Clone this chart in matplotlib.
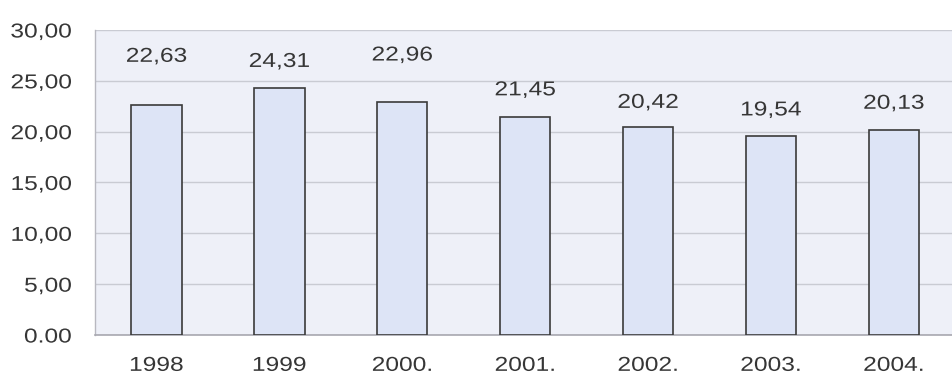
import matplotlib
matplotlib.use("Agg")
import matplotlib.pyplot as plt
from matplotlib.patheffects import AbstractPathEffect
from matplotlib.transforms import Affine2D

plt.rcParams['font.family'] = ['Liberation Sans', 'DejaVu Sans']

years = ["1998", "1999", "2000.", "2001.", "2002.", "2003.", "2004."]
values = [22.63, 24.31, 22.96, 21.45, 20.42, 19.54, 20.13]
value_labels = ["22,63", "24,31", "22,96", "21,45", "20,42", "19,54", "20,13"]
y_ticks = [0, 5, 10, 15, 20, 25, 30]
y_tick_labels = ["0.00", "5,00", "10,00", "15,00", "20,00", "25,00", "30,00"]
# vertical gap (points) between each bar top and its value label
label_gaps = [35, 19, 33.5, 19.5, 18, 19, 19.5]


class HStretch(AbstractPathEffect):
    """Widen glyphs horizontally about the left, centre or right of the ink."""

    def __init__(self, sx, anchor="center"):
        super().__init__()
        self.sx = sx
        self.anchor = anchor

    def draw_path(self, renderer, gc, tpath, affine, rgbFace=None):
        ext = tpath.get_extents()
        if self.anchor == "right":
            cx = ext.x1
        elif self.anchor == "left":
            cx = ext.x0
        else:
            cx = 0.5 * (ext.x0 + ext.x1)
        t = Affine2D().translate(-cx, 0).scale(self.sx, 1).translate(cx, 0) + affine
        renderer.draw_path(gc, tpath, t, rgbFace)


STRETCH = 1.22
FS = 14.5
TXT = "#363636"

fig = plt.figure(figsize=(9.52, 3.83), dpi=100)
ax = fig.add_axes([0.0998, 0.1253, 0.9035, 0.7964])
ax.set_facecolor("#eef0f8")

x = list(range(len(years)))
ax.bar(x, values, width=0.41, color="#dde4f6", edgecolor="#3a3a3a",
       linewidth=1.2, zorder=3)

for xi, v, lab, gap in zip(x, values, value_labels, label_gaps):
    ax.annotate(lab, (xi, v), xytext=(0, gap), textcoords="offset points",
                ha="center", va="center", fontsize=FS, color=TXT,
                path_effects=[HStretch(STRETCH, "center")])

ax.set_xlim(-0.5, len(years) - 0.5)
ax.set_ylim(0, 30)
ax.set_yticks(y_ticks)
ax.set_yticklabels(y_tick_labels)
ax.set_xticks(x)
ax.set_xticklabels(years)
ax.tick_params(axis="y", length=0, pad=17, labelsize=FS, labelcolor=TXT)
ax.tick_params(axis="x", length=0, pad=15, labelsize=FS, labelcolor=TXT)

ax.yaxis.grid(True, color="#c9cbd3", linewidth=1.0, zorder=1)
ax.set_axisbelow(True)

for side in ("top", "right"):
    ax.spines[side].set_visible(False)
ax.spines["left"].set_color("#b8b8c0")
ax.spines["left"].set_linewidth(1.0)
ax.spines["bottom"].set_color("#a8a8b0")
ax.spines["bottom"].set_linewidth(1.2)

fig.canvas.draw()
for t in ax.get_yticklabels():
    t.set_path_effects([HStretch(STRETCH, "right")])
for t in ax.get_xticklabels():
    t.set_path_effects([HStretch(STRETCH, "center")])

fig.savefig("out.png", dpi=100, facecolor="white")
